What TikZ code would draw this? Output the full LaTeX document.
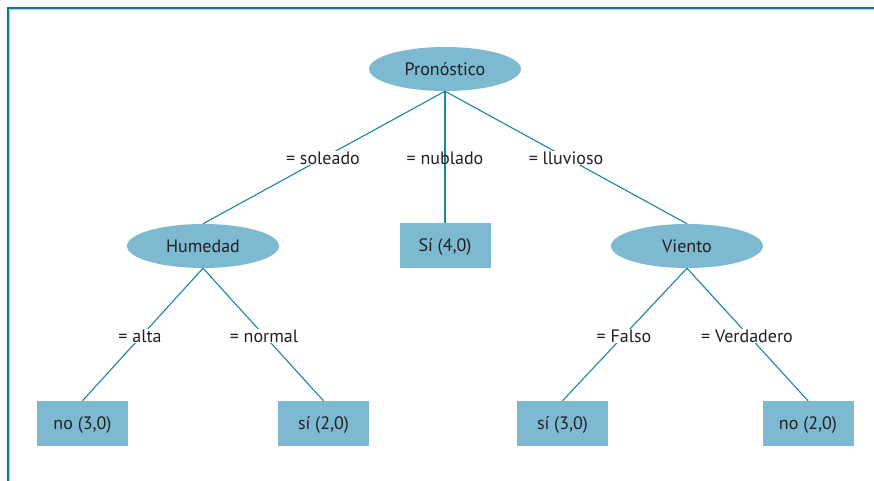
\documentclass[tikz,border=0pt]{standalone}
\usepackage{fontspec}
\setmainfont{PT Sans}
\usetikzlibrary{shapes.geometric}
\definecolor{boxfill}{HTML}{7DBAD2}
\definecolor{edgecol}{HTML}{1A84A6}
\definecolor{framedark}{HTML}{0A7892}
\definecolor{framelight}{HTML}{A9D8E8}
\definecolor{textcol}{HTML}{231F20}
\tikzset{
  lbl/.style={text=textcol, font=\fontsize{18}{20}\selectfont},
  attr/.style={lbl, ellipse, fill=boxfill, minimum width=152pt, minimum height=44pt, inner sep=0pt},
  leaf/.style={lbl, rectangle, fill=boxfill, minimum width=91pt, minimum height=45pt, inner sep=0pt,
               text height=12pt, text depth=0pt},
  branch/.style={edgecol, line width=1.1pt},
  cond/.style={lbl, fill=white, inner sep=0.5pt},
  condclear/.style={lbl, inner sep=0.5pt}
}
\begin{document}
\begin{tikzpicture}[x=1pt, y=-1pt]
\useasboundingbox (0,0) rectangle (874,481);
% frame along the left and top edges
\draw[framelight, line width=1pt] (9.5,481) -- (9.5,9.5) -- (874,9.5);
\draw[framedark, line width=2pt] (8,481) -- (8,8) -- (874,8);

% decision nodes
\node[attr] (pron) at (445,69) {Pronóstico};
\node[attr] (hum) at (203,246) {Humedad};
\node[attr] (vie) at (687,246) {Viento};

% leaves
\node[leaf] (s40) at (445,245.5) {Sí (4,0)};
\node[leaf] (n30) at (82.5,423.5) {no (3,0)};
\node[leaf] (s20) at (323.5,423.5) {sí (2,0)};
\node[leaf] (s30) at (562.5,423.5) {sí (3,0)};
\node[leaf] (n20) at (808,423.5) {no (2,0)};

% branches
\draw[branch] (pron.south) -- (hum.north);
\draw[branch] (pron.south) -- (s40.north);
\draw[branch] (pron.south) -- (vie.north);
\draw[branch] (hum.south) -- (n30.north);
\draw[branch] (hum.south) -- (s20.north);
\draw[branch] (vie.south) -- (s30.north);
\draw[branch] (vie.south) -- (n20.north);

% branch conditions
\node[cond] (c1) at (323,158) {= soleado};
\node[condclear] (c2) at (445,158) {= nublado};
\node[cond] (c3) at (566,158) {= lluvioso};
\node[cond] (c4) at (140,336) {= alta};
\node[cond] (c5) at (264,336) {= normal};
\node[cond] (c6) at (624,336) {= Falso};
\node[cond] (c7) at (747,336) {= Verdadero};
\end{tikzpicture}
\end{document}
